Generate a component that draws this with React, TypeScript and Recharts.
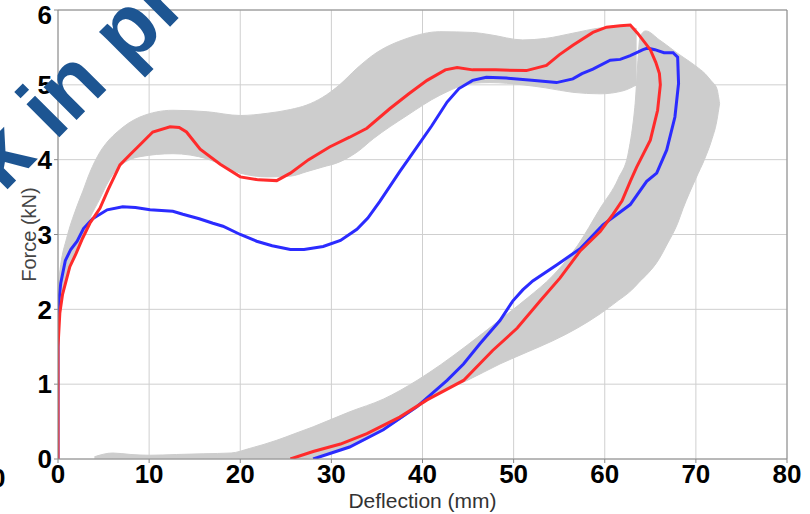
import { ComposedChart, Area, Line, XAxis, YAxis, CartesianGrid, ReferenceLine } from 'recharts';

// gray envelope of the loading branches (x, lower edge, upper edge)
const loadX = [0, 0.3, 0.95, 2, 2.7, 3.5, 4.6, 5.5, 6.5, 9, 12.6, 16.4, 20, 23, 25.5, 27.3, 29, 30.9, 32.8, 34.6, 38.3, 41.9, 45.5, 47.4, 51, 53.5, 56.5, 59.5, 62, 63.5];
const loadLow = [1.6, 2.0, 2.4, 2.8, 3.0, 3.22, 3.48, 3.7, 3.88, 4.04, 4.08, 4.01, 3.82, 3.77, 3.78, 3.84, 3.9, 3.97, 4.1, 4.28, 4.59, 4.86, 5.02, 5.03, 5.0, 4.96, 4.9, 4.88, 4.92, 5.0];
const loadHigh = [2.3, 2.6, 2.95, 3.35, 3.57, 3.83, 4.1, 4.25, 4.37, 4.57, 4.66, 4.64, 4.59, 4.62, 4.67, 4.73, 4.83, 5.0, 5.22, 5.4, 5.62, 5.71, 5.7, 5.67, 5.6, 5.62, 5.69, 5.76, 5.78, 5.75];

// gray envelope of the unloading branches
const unloadX = [4, 6, 8, 10, 13, 16, 19, 21, 24, 26, 28, 30, 32, 35.7, 39.4, 42, 44.9, 48.5, 51.5, 54.3, 57, 59.5, 61.5, 62.6, 63.3, 63.9, 64.5, 66, 66.8, 68, 68.6, 70, 71, 71.7, 72.3, 72.6];
const unloadLow = [0, 0, 0, 0, 0, 0, 0, 0, 0, 0, 0.02, 0.08, 0.16, 0.39, 0.68, 0.9, 1.05, 1.27, 1.43, 1.58, 1.75, 1.94, 2.12, 2.22, 2.3, 2.38, 2.45, 2.68, 2.86, 3.15, 3.35, 3.75, 4.02, 4.25, 4.52, 4.75];
const unloadHigh = [0.03, 0.08, 0.06, 0.05, 0.06, 0.07, 0.08, 0.14, 0.25, 0.34, 0.43, 0.53, 0.63, 0.8, 1.05, 1.26, 1.52, 1.86, 2.15, 2.45, 2.85, 3.35, 3.75, 4.1, 4.7, 5.65, 5.72, 5.6, 5.53, 5.42, 5.37, 5.25, 5.15, 5.05, 4.95, 4.75];

// red test curve
const redX = [0, 0, 0.2, 0.5, 1.3, 2.0, 2.7, 3.5, 4.6, 5.5, 6.8, 8, 9, 10.4, 12.3, 13.3, 14.1, 15.6, 17.8, 20, 22, 24, 25.5, 27.5, 29.8, 32, 33.9, 36.4, 38.5, 40.5, 42.5, 43.8, 45.5, 48, 51.4, 53.6, 55, 56.5, 58.7, 60.2, 61.7, 62.8, 63.6, 65, 65.6, 66, 66.1, 65.8, 65, 63.5, 62.8, 61.9, 60.9, 59.5, 57.3, 55.1, 52.9, 50.4, 47.7, 44.5, 40.5, 37.5, 33.9, 31, 28, 25.5];
const redY = [0, 1.5, 1.95, 2.2, 2.57, 2.75, 2.95, 3.15, 3.35, 3.6, 3.93, 4.08, 4.2, 4.37, 4.44, 4.43, 4.37, 4.14, 3.94, 3.77, 3.73, 3.72, 3.82, 4.0, 4.17, 4.3, 4.42, 4.68, 4.88, 5.06, 5.2, 5.23, 5.2, 5.2, 5.19, 5.26, 5.4, 5.53, 5.7, 5.77, 5.79, 5.8, 5.69, 5.47, 5.3, 5.15, 5.0, 4.66, 4.26, 3.9, 3.71, 3.45, 3.27, 3.04, 2.78, 2.42, 2.11, 1.75, 1.45, 1.05, 0.79, 0.56, 0.34, 0.2, 0.1, 0];

// blue test curve
const blueX = [0, 0, 0.3, 0.8, 1.4, 2.1, 2.8, 3.8, 5.4, 7.1, 8.5, 10.1, 12.6, 13.7, 15.5, 17, 18.1, 20, 21.8, 23.5, 25.5, 27, 29.1, 31, 32.8, 34, 35.3, 37.5, 39, 41, 42.7, 44, 45.5, 47, 49.2, 52, 54.7, 56.5, 57.5, 58.7, 60.6, 61.7, 62.8, 64.2, 64.7, 65.5, 66.5, 67.5, 68, 68.1, 67.7, 66.8, 65.7, 64.6, 62.8, 59.8, 57.3, 54.8, 52.1, 51, 49.9, 48.5, 46.3, 44.5, 42.7, 39.4, 35.7, 32, 30, 28];
const blueY = [0, 2.0, 2.35, 2.65, 2.8, 2.91, 3.08, 3.21, 3.33, 3.37, 3.36, 3.33, 3.31, 3.27, 3.21, 3.15, 3.11, 3.0, 2.91, 2.85, 2.8, 2.8, 2.84, 2.92, 3.07, 3.22, 3.44, 3.84, 4.1, 4.45, 4.77, 4.95, 5.06, 5.1, 5.09, 5.06, 5.03, 5.08, 5.15, 5.21, 5.33, 5.34, 5.39, 5.47, 5.49, 5.47, 5.43, 5.43, 5.37, 5.02, 4.57, 4.13, 3.82, 3.71, 3.4, 3.13, 2.81, 2.6, 2.38, 2.26, 2.11, 1.85, 1.54, 1.27, 1.05, 0.7, 0.39, 0.16, 0.08, 0];

const xTicks = [0, 10, 20, 30, 40, 50, 60, 70, 80];
const yTicks = [0, 1, 2, 3, 4, 5, 6];

const band = (xs: number[], lo: number[], hi: number[]) => xs.map((x, i) => ({ x, r: [lo[i], hi[i]] }));
const curve = (xs: number[], ys: number[]) => xs.map((x, i) => ({ x, y: ys[i] }));

const loadBand = band(loadX, loadLow, loadHigh);
const unloadBand = band(unloadX, unloadLow, unloadHigh);
const red = curve(redX, redY);
const blue = curve(blueX, blueY);

const FONT = 'Liberation Sans, Arial, sans-serif';
const tickStyle = { fill: '#000', fontSize: 26, fontWeight: 700, fontFamily: FONT };
const FRAME = '#8a8a8a';

export default function App() {
  return (
    <div style={{ position: 'relative', width: 810, height: 514, overflow: 'hidden', background: '#fff' }}>
      <style>{'body{margin:0}'}</style>
      <ComposedChart width={810} height={514} margin={{ top: 10, right: 23, bottom: 0, left: 8 }}>
        <CartesianGrid stroke="#cfcfcf" />
        <XAxis type="number" dataKey="x" domain={[0, 80]} ticks={xTicks} allowDataOverflow height={55}
          tick={tickStyle} tickSize={4} stroke={FRAME}
          label={{ value: 'Deflection (mm)', position: 'insideBottom', offset: 6, fill: '#333', fontSize: 21, fontFamily: FONT }} />
        <YAxis type="number" domain={[0, 6]} ticks={yTicks} allowDataOverflow width={50}
          tick={tickStyle} tickSize={4} stroke={FRAME}
          label={{ value: 'Force (kN)', angle: -90, position: 'insideLeft', offset: 21, fill: '#444', fontSize: 20, fontFamily: FONT, style: { textAnchor: 'middle' } }} />
        <ReferenceLine y={6} stroke={FRAME} />
        <ReferenceLine x={80} stroke={FRAME} />
        <Area data={loadBand} dataKey="r" type="monotone" stroke="#cdcdcd" strokeWidth={1} fill="#cdcdcd" fillOpacity={1} isAnimationActive={false} />
        <Area data={unloadBand} dataKey="r" type="monotone" stroke="#cdcdcd" strokeWidth={1} fill="#cdcdcd" fillOpacity={1} isAnimationActive={false} />
        <Line data={blue} dataKey="y" type="linear" stroke="#2b2bff" strokeWidth={3} dot={false} isAnimationActive={false} />
        <Line data={red} dataKey="y" type="linear" stroke="#ff2b2b" strokeWidth={3} dot={false} isAnimationActive={false} />
      </ComposedChart>
      <div style={{ position: 'absolute', left: -169, top: 261, transform: 'rotate(-45deg)', transformOrigin: '0 0', fontSize: 88, fontWeight: 700, lineHeight: 1, color: '#1d5592', fontFamily: FONT, whiteSpace: 'nowrap' }}>
        Work in progress
      </div>
      <div style={{ position: 'absolute', left: -9, top: 465, fontSize: 26, fontWeight: 700, lineHeight: 1, fontFamily: FONT }}>0</div>
    </div>
  );
}
